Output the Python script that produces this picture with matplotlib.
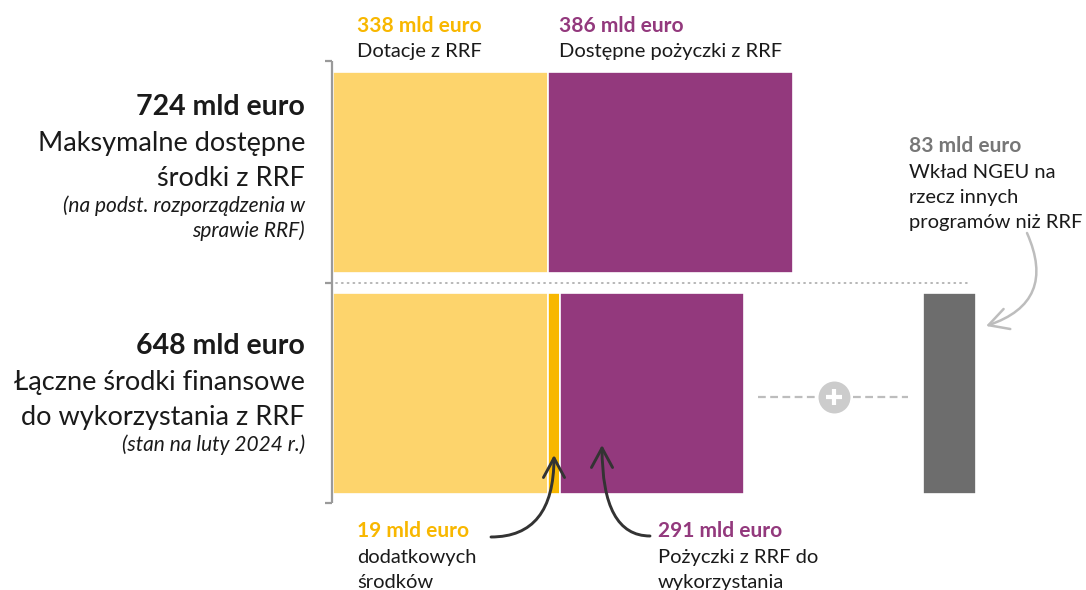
import matplotlib
matplotlib.use("Agg")
import matplotlib.pyplot as plt
from matplotlib.patches import FancyArrowPatch

plt.rcParams["font.family"] = ["Lato", "DejaVu Sans"]

# amounts in mld euro
row_titles = [["Maksymalne dostępne", "środki z RRF"],
              ["Łączne środki finansowe", "do wykorzystania z RRF"]]
row_notes = [["(na podst. rozporządzenia w", "sprawie RRF)"],
             ["(stan na luty 2024 r.)"]]
grants = [338, 338]
extra_funds = [0, 19]
loans = [386, 291]
ngeu_other = 83

YELLOW = "#FDD46C"
ORANGE = "#F8B700"
PURPLE = "#93397D"
GREY = "#6D6D6D"
LIGHT = "#BDBDBD"
TEXT = "#1A1A1A"

S = 0.635  # pixels per mld euro
X0 = 333   # pixel column where bars start


def px(x):
    return (x - X0) / S


def lines(x, y0, rows, step, **kw):
    # one text per line so every baseline sits where it should
    for k, s in enumerate(rows):
        ax.text(x, y0 + k * step, s, va="baseline", **kw)


fig = plt.figure(figsize=(10.86, 5.90), dpi=100)
ax = fig.add_axes([0, 0, 1, 1])
ax.set_xlim(px(0), px(1086))
ax.set_ylim(590, 0)
ax.axis("off")

rows_y = [172, 393]
bar_h = 201

for i, y in enumerate(rows_y):
    ax.barh(y, grants[i], left=0, height=bar_h, color=YELLOW, edgecolor="white", linewidth=1.2)
    if extra_funds[i]:
        ax.barh(y, extra_funds[i], left=grants[i], height=bar_h, color=ORANGE,
                edgecolor="white", linewidth=1.2)
    ax.barh(y, loans[i], left=grants[i] + extra_funds[i], height=bar_h, color=PURPLE,
            edgecolor="white", linewidth=1.2)

# NGEU money outside RRF
ax.barh(rows_y[1], ngeu_other, left=px(923), height=bar_h, color=GREY, edgecolor="white", linewidth=1.2)

# bracket on the left and the dotted separator
ax.plot([px(332), px(332)], [61, 503], color="#9A9A9A", lw=1.6, solid_capstyle="butt")
for yy in (61, 282.5, 503):
    ax.plot([px(325), px(332)], [yy, yy], color="#9A9A9A", lw=1.6, solid_capstyle="butt")
ax.plot([px(336), px(970)], [282.5, 282.5], color="#B0B0B0", lw=1.3, ls=(0, (0.6, 2.6)),
        dash_capstyle="round")

# dashed "+" connector
ax.plot([px(758), px(815)], [397, 397], color=LIGHT, lw=1.6, ls=(0, (3.5, 2)))
ax.plot([px(853), px(908)], [397, 397], color=LIGHT, lw=1.6, ls=(0, (3.5, 2)))
ax.plot(px(834), 397, "o", ms=23, color="#CCCCCC", mec="none")
ax.plot(px(834), 397, "+", ms=12, mew=3, color="white")

# left row labels
totals = [g + e + l for g, e, l in zip(grants, extra_funds, loans)]
for total, title, note, y0 in zip(totals, row_titles, row_notes, [115, 354]):
    ax.text(px(305), y0, f"{total} mld euro", ha="right", va="baseline", fontsize=20.5,
            fontweight="bold", color=TEXT)
    lines(px(305), y0 + 36, title, 35, ha="right", fontsize=19.5, color=TEXT)
    lines(px(305), y0 + 36 + 35 * (len(title) - 1) + 26, note, 25, ha="right", fontsize=15,
          style="italic", color=TEXT)

# top segment labels
BOLD = dict(fontsize=15, fontweight="bold")
REG = dict(fontsize=14.5, color=TEXT)
lines(px(357), 32, [f"{grants[0]} mld euro"], 0, color=ORANGE, **BOLD)
lines(px(357), 57, ["Dotacje z RRF"], 0, **REG)
lines(px(559), 32, [f"{loans[0]} mld euro"], 0, color=PURPLE, **BOLD)
lines(px(559), 57, ["Dostępne pożyczki z RRF"], 0, **REG)

# right label
lines(px(909), 152, [f"{ngeu_other} mld euro"], 0, color="#777777", **BOLD)
lines(px(909), 178, ["Wkład NGEU na", "rzecz innych", "programów niż RRF"], 25, **REG)

# bottom labels
lines(px(357), 537, [f"{extra_funds[1]} mld euro"], 0, color=ORANGE, **BOLD)
lines(px(357), 563, ["dodatkowych", "środków"], 25, **REG)
lines(px(658), 537, [f"{loans[1]} mld euro"], 0, color=PURPLE, **BOLD)
lines(px(658), 563, ["Pożyczki z RRF do", "wykorzystania"], 25, **REG)

# arrows
arrow_kw = dict(arrowstyle="->,head_length=0.7,head_width=0.38", mutation_scale=20, shrinkA=0, shrinkB=0)
ax.add_patch(FancyArrowPatch((px(491), 537), (px(554), 455), connectionstyle="angle3,angleA=0,angleB=90",
                             color="#333333", lw=2.1, **arrow_kw))
ax.add_patch(FancyArrowPatch((px(650), 536), (px(602), 445), connectionstyle="angle3,angleA=0,angleB=90",
                             color="#333333", lw=2.1, **arrow_kw))
ax.add_patch(FancyArrowPatch((px(1027), 233), (px(986), 326), connectionstyle="arc3,rad=-0.55",
                             color=LIGHT, lw=1.8, **arrow_kw))

fig.savefig("out.png", dpi=100)
